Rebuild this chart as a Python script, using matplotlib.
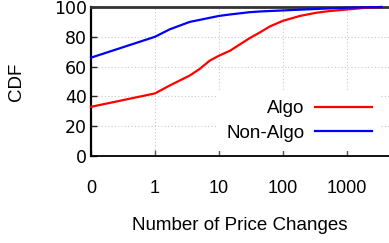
import matplotlib
matplotlib.use("Agg")
import matplotlib.pyplot as plt
import numpy as np

# values
algo_x = [0, 1, 1.7, 3.5, 5, 7.2, 10, 15, 30, 44, 63, 100, 185, 340, 540, 1130, 2000, 3500]
algo_y = [33, 42, 47.3, 54, 58.4, 64, 67.3, 70.7, 79, 83, 87, 90.7, 94, 96.2, 97.3, 98.5, 99.5, 100]

nonalgo_x = [0, 1, 1.7, 3.5, 10, 15, 30, 44, 100, 185, 500, 1000, 3500]
nonalgo_y = [66, 80, 85, 90, 94, 95, 96.5, 97, 97.7, 98.2, 99, 99.5, 100]

xticks = [0, 1, 10, 100, 1000]
xtick_labels = ["0", "1", "10", "100", "1000"]
yticks = [0, 20, 40, 60, 80, 100]

plt.rcParams['font.family'] = ['Liberation Sans', 'DejaVu Sans']

fig = plt.figure(figsize=(3.89, 2.43), dpi=100)
ax = fig.add_axes([91 / 389, (243 - 156) / 243, 1 - 91 / 389, 149 / 243])

ax.plot(algo_x, algo_y, color='#ff0000', lw=1.6, label='Algo', clip_on=False, zorder=3)
ax.plot(nonalgo_x, nonalgo_y, color='#0000ff', lw=1.6, label='Non-Algo', clip_on=False, zorder=3)

# 0 -> 1 gets the same width as one decade
ax.set_xscale('symlog', linthresh=1, linscale=0.9)
ax.set_xlim(0, 4570)
ax.set_ylim(0, 100)
ax.set_xticks(xticks)
ax.set_xticklabels(xtick_labels)
ax.set_yticks(yticks)
ax.xaxis.set_minor_locator(matplotlib.ticker.NullLocator())

ax.grid(True, color='#c8c8c8', linestyle=(0, (1, 2)), lw=0.8)
ax.tick_params(axis='x', direction='in', length=4, width=1, color='#555555',
               labelsize=13, pad=17)
ax.tick_params(axis='y', direction='in', length=4, width=1, color='#222222',
               labelsize=12.5, pad=3)
for lab in ax.get_yticklabels():
    lab.set_fontfamily('DejaVu Sans')

ax.spines['right'].set_visible(False)
ax.spines['top'].set_color('#333333')
ax.spines['top'].set_linewidth(2)
ax.spines['left'].set_linewidth(1.6)
ax.spines['bottom'].set_linewidth(1.3)

ax.set_xlabel('Number of Price Changes', fontsize=13.5, labelpad=15)
ax.set_ylabel('CDF', fontsize=13.5, labelpad=21)

leg = ax.legend(loc='center right', bbox_to_anchor=(381 / 389, (243 - 121) / 243),
                bbox_transform=fig.transFigure, markerfirst=False, fontsize=13.5,
                handlelength=3.0, handletextpad=0.6, labelspacing=0.4,
                borderpad=0.5, borderaxespad=0, frameon=True, fancybox=False)
leg.get_frame().set_edgecolor('none')
leg.get_frame().set_facecolor('white')
leg.get_frame().set_alpha(1)
for t in leg.get_texts():
    t.set_ha('right')

fig.savefig('out.png', dpi=100)
